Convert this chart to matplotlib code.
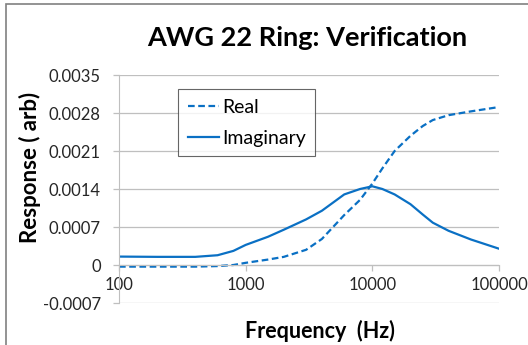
import matplotlib
matplotlib.use('Agg')
import matplotlib.pyplot as plt
from matplotlib.patches import Rectangle

plt.rcParams['font.family'] = 'Lato'

# values
freq = [100, 200, 400, 600, 800, 1000, 1500, 2000, 3000, 4000, 6000, 8000,
        10000, 12000, 15000, 20000, 25000, 30000, 40000, 60000, 100000]
real = [-0.00003, -0.00003, -0.00003, -0.00002, 0.0, 0.00004, 0.0001, 0.00015,
        0.00028, 0.00048, 0.00092, 0.0012, 0.0015, 0.00178, 0.0021, 0.00238,
        0.00256, 0.00267, 0.00276, 0.00283, 0.00291]
imag = [0.000155, 0.00015, 0.00015, 0.00018, 0.00026, 0.00037, 0.00052, 0.00065,
        0.00084, 0.001, 0.0013, 0.0014, 0.00145, 0.0014, 0.0013, 0.00112,
        0.00093, 0.00078, 0.00063, 0.00047, 0.0003]
yticks = [-0.0007, 0, 0.0007, 0.0014, 0.0021, 0.0028, 0.0035]
ylabels = ['-0.0007', '0', '0.0007', '0.0014', '0.0021', '0.0028', '0.0035']
xticks = [100, 1000, 10000, 100000]

blue = '#0a70c4'
grey = '#bfbfbf'
txt = '#262626'

fig = plt.figure(figsize=(5.28, 3.45), dpi=100)
ax = fig.add_axes([119/528, 1-303/345, 380/528, 228/345])

ax.plot(freq, real, '--', color=blue, lw=1.6, dashes=(3, 1.6), label='Real')
ax.plot(freq, imag, '-', color=blue, lw=1.6, label='Imaginary')

ax.set_xscale('log')
ax.set_xlim(100, 100000)
ax.set_ylim(-0.0007, 0.0035)
ax.set_xticks(xticks)
ax.set_xticklabels([str(x) for x in xticks])
ax.minorticks_off()
ax.set_yticks(yticks)
ax.set_yticklabels(ylabels)
ax.yaxis.grid(True, color=grey, lw=0.9)
ax.set_axisbelow(True)

for s in ['top', 'right']:
    ax.spines[s].set_visible(False)
ax.spines['bottom'].set_position(('data', 0))
ax.spines['bottom'].set_color(grey)
ax.spines['left'].set_color(grey)
ax.tick_params(axis='both', colors=grey, labelcolor=txt, labelsize=12, length=4, width=0.9)
ax.tick_params(axis='x', pad=5)
ax.tick_params(axis='y', pad=9)

fig.text(307/528, 1-38/345, 'AWG 22 Ring: Verification', ha='center', va='center',
         fontsize=19.5, fontweight='bold', color='black')
fig.text(30/528, 1-167/345, 'Response ( arb)', ha='center', va='center', rotation=90,
         fontsize=16, fontweight='bold', color='black')
fig.text(320/528, 1-331/345, 'Frequency  (Hz)', ha='center', va='center',
         fontsize=15.5, fontweight='bold', color='black')

leg = ax.legend(loc='upper left', bbox_to_anchor=(178/528, 1-89/345), bbox_transform=fig.transFigure,
                fontsize=14, frameon=True, fancybox=False, handlelength=1.6, handletextpad=0.15,
                borderpad=0.5, labelspacing=0.72, borderaxespad=0)
leg.get_frame().set_edgecolor('#404040')
leg.get_frame().set_linewidth(0.8)

fig.patches.append(Rectangle((6/528, -0.1), 1.2, 1.1 - 4/345, transform=fig.transFigure,
                             fill=False, edgecolor='#808080', lw=1.2))

fig.savefig('out.png', dpi=100)
